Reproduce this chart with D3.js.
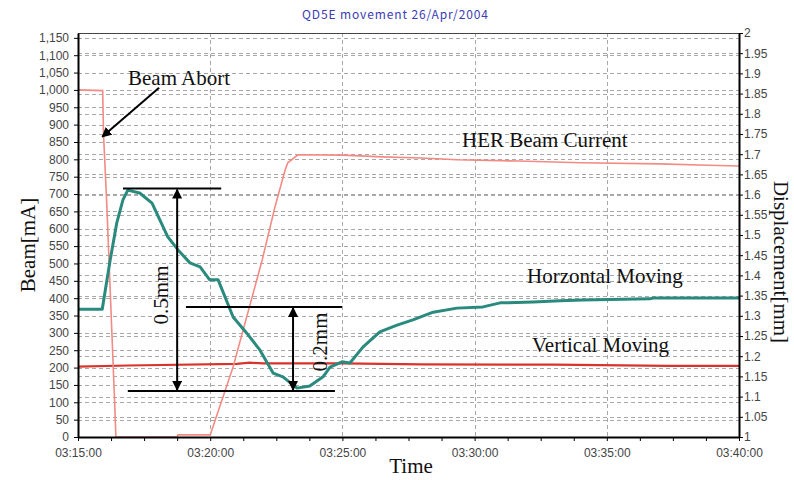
<!DOCTYPE html>
<html>
<head>
<meta charset="utf-8">
<script src="https://cdn.jsdelivr.net/npm/d3@7"></script>
<style>
    body { margin: 0; background: #fff; }
    .axis text { font-family: "Liberation Sans", Arial, sans-serif; font-size: 12px; fill: #444; }
    .axis path, .axis line { stroke: #000; }
    .grid line { stroke: #a8a8a8; stroke-dasharray: 4,3; }
    .note { font-family: "Liberation Serif", "Times New Roman", serif; font-size: 21px; fill: #111; }
</style>
</head>
<body>
<div id="chart-area"></div>
<script>
// HER beam current (left axis, mA)
var herTimes = ['03:15:00', '03:15:56', '03:15:58', '03:16:05', '03:16:23', '03:16:26', '03:18:45', '03:18:47',
    '03:20:00', '03:20:52', '03:21:58', '03:22:27', '03:22:50', '03:22:56', '03:23:19', '03:25:00', '03:26:30',
    '03:28:00', '03:29:20', '03:31:40', '03:34:00', '03:37:00', '03:38:50', '03:40:00'];
var herValues = [1000, 998, 870, 680, 105, 0, 0, 6,
    6, 202, 510, 663, 769, 790, 813, 812, 807,
    804, 799, 795, 790, 787, 783, 781];

// horizontal displacement (right axis, mm)
var horTimes = ['03:15:00', '03:15:55', '03:16:13', '03:16:28', '03:16:42', '03:16:53', '03:17:20', '03:17:48',
    '03:18:06', '03:18:24', '03:18:47', '03:19:14', '03:19:37', '03:19:59', '03:20:18', '03:20:52', '03:21:23',
    '03:21:53', '03:22:23', '03:22:45', '03:23:17', '03:23:46', '03:24:16', '03:24:32', '03:24:59', '03:25:17',
    '03:25:47', '03:26:25', '03:27:04', '03:27:40', '03:28:26', '03:29:20', '03:30:19', '03:30:58', '03:32:13',
    '03:33:14', '03:34:06', '03:36:38', '03:36:45', '03:40:00'];
var horValues = [1.316, 1.316, 1.438, 1.530, 1.587, 1.611, 1.604, 1.579,
    1.537, 1.495, 1.463, 1.431, 1.421, 1.389, 1.389, 1.297, 1.257,
    1.215, 1.158, 1.149, 1.121, 1.126, 1.149, 1.173, 1.186, 1.183,
    1.223, 1.260, 1.277, 1.290, 1.309, 1.319, 1.322, 1.332, 1.334,
    1.337, 1.339, 1.342, 1.344, 1.344];

// vertical displacement (right axis, mm)
var verTimes = ['03:15:00', '03:16:53', '03:21:00', '03:21:30', '03:22:00', '03:25:00', '03:28:00', '03:33:00',
    '03:37:20', '03:40:00'];
var verValues = [1.174, 1.177, 1.181, 1.184, 1.182, 1.182, 1.180, 1.179, 1.176, 1.176];

var beamTicks = d3.range(0, 1151, 50);
var dispTicks = d3.range(0, 21).map(function (i) { return 1 + i * 0.05; });

var margin = { top: 33, right: 55, bottom: 43, left: 78 };
var width = 794 - margin.left - margin.right;
var height = 480 - margin.top - margin.bottom;

var parse = d3.timeParse('%H:%M:%S');
var t0 = parse('03:15:00');
var t1 = parse('03:40:00');

var svg = d3.select('#chart-area')
    .append('svg')
    .attr('width', 794)
    .attr('height', 480);

var g = svg.append('g')
    .attr('transform', 'translate(' + margin.left + ',' + margin.top + ')');

var x = d3.scaleTime().domain([t0, t1]).range([0, width]);
var yL = d3.scaleLinear().domain([0, 1164]).range([height, 0]);
var yR = d3.scaleLinear().domain([1, 2]).range([height, 0]);

// gridlines, both axes
g.append('g').attr('class', 'grid')
    .selectAll('line').data(beamTicks.filter(function (d) { return d > 0; }))
    .enter().append('line')
    .attr('x1', 0).attr('x2', width)
    .attr('y1', function (d) { return Math.round(yL(d)) + 0.5; })
    .attr('y2', function (d) { return Math.round(yL(d)) + 0.5; });

g.append('g').attr('class', 'grid')
    .selectAll('line').data(dispTicks.filter(function (d) { return d > 1.001 && d < 1.999; }))
    .enter().append('line')
    .attr('x1', 0).attr('x2', width)
    .attr('y1', function (d) { return Math.round(yR(d)) + 0.5; })
    .attr('y2', function (d) { return Math.round(yR(d)) + 0.5; });

var majorTimes = [1, 2, 3, 4].map(function (i) { return new Date(t0.getTime() + i * 300000); });
g.append('g').attr('class', 'grid')
    .selectAll('line').data(majorTimes)
    .enter().append('line')
    .attr('y1', 0).attr('y2', height)
    .attr('x1', function (d) { return Math.round(x(d)) + 0.5; })
    .attr('x2', function (d) { return Math.round(x(d)) + 0.5; });

// top border
g.append('line')
    .attr('x1', 0).attr('x2', width)
    .attr('y1', 0.5).attr('y2', 0.5)
    .attr('stroke', '#444');

// series
function series(times, values) {
    return times.map(function (t, i) { return { t: parse(t), v: values[i] }; });
}

var lineL = d3.line()
    .x(function (d) { return x(d.t); })
    .y(function (d) { return yL(d.v); });
var lineR = d3.line()
    .x(function (d) { return x(d.t); })
    .y(function (d) { return yR(d.v); });

g.append('path')
    .datum(series(verTimes, verValues))
    .attr('d', lineR)
    .attr('fill', 'none')
    .attr('stroke', '#d8342c')
    .attr('stroke-width', 2.2);

g.append('path')
    .datum(series(herTimes, herValues))
    .attr('d', lineL)
    .attr('fill', 'none')
    .attr('stroke', '#f38a84')
    .attr('stroke-width', 1.6);

g.append('path')
    .datum(series(horTimes, horValues))
    .attr('d', lineR)
    .attr('fill', 'none')
    .attr('stroke', '#2a8a7e')
    .attr('stroke-width', 3)
    .attr('stroke-linejoin', 'round');

// axes
var xTicks = d3.range(0, 21).map(function (i) { return new Date(t0.getTime() + i * 75000); });
var xAxisCall = d3.axisBottom(x)
    .tickValues(xTicks)
    .tickSize(4)
    .tickPadding(7)
    .tickSizeOuter(0)
    .tickFormat(function (d) {
        return (d - t0) % 300000 === 0 ? d3.timeFormat('%H:%M:%S')(d) : '';
    });
g.append('g')
    .attr('class', 'axis x-axis')
    .attr('transform', 'translate(0,' + height + ')')
    .call(xAxisCall)
    .select('.domain').attr('stroke-width', 2);

var yAxisCall = d3.axisLeft(yL)
    .tickValues(beamTicks)
    .tickSize(4)
    .tickPadding(5)
    .tickSizeOuter(0)
    .tickFormat(d3.format(','));
g.append('g')
    .attr('class', 'axis y-axis')
    .call(yAxisCall)
    .select('.domain').attr('stroke-width', 2);

var y2AxisCall = d3.axisRight(yR)
    .tickValues(dispTicks)
    .tickSize(4)
    .tickPadding(1)
    .tickSizeOuter(0)
    .tickFormat(d3.format('.3~f'));
g.append('g')
    .attr('class', 'axis y2-axis')
    .attr('transform', 'translate(' + width + ',0)')
    .call(y2AxisCall)
    .select('.domain').attr('stroke-width', 2);

// title and axis titles
svg.append('text')
    .attr('x', 395).attr('y', 19)
    .attr('text-anchor', 'middle')
    .attr('font-family', '"Noto Sans CJK JP", "DejaVu Sans", sans-serif')
    .attr('font-size', 12)
    .attr('fill', '#3c3cb4')
    .attr('textLength', 186)
    .text('QD5E movement 26/Apr/2004');

svg.append('text').attr('class', 'note')
    .attr('transform', 'translate(35,245) rotate(-90)')
    .attr('text-anchor', 'middle')
    .text('Beam[mA]');

svg.append('text').attr('class', 'note')
    .attr('transform', 'translate(774,262) rotate(90)')
    .attr('text-anchor', 'middle')
    .text('Displacement[mm]');

svg.append('text').attr('class', 'note')
    .attr('x', 411).attr('y', 473)
    .attr('text-anchor', 'middle')
    .attr('font-size', 20)
    .text('Time');

// annotations
var defs = svg.append('defs');
defs.append('marker')
    .attr('id', 'head')
    .attr('viewBox', '0 0 10 10')
    .attr('refX', 9).attr('refY', 5)
    .attr('markerWidth', 10).attr('markerHeight', 10)
    .attr('markerUnits', 'userSpaceOnUse')
    .attr('orient', 'auto-start-reverse')
    .append('path')
    .attr('d', 'M0,0 L10,5 L0,10 z')
    .attr('fill', '#000');

var ann = g.append('g').attr('stroke', '#000').attr('stroke-width', 2);

function tm(s) { return x(parse(s)); }

// Beam Abort arrow
ann.append('line')
    .attr('x1', tm('03:18:04')).attr('y1', yL(1006))
    .attr('x2', tm('03:15:55')).attr('y2', yL(865))
    .attr('marker-end', 'url(#head)');

// 0.5mm bracket
ann.append('line')
    .attr('x1', tm('03:16:42')).attr('x2', tm('03:20:25'))
    .attr('y1', yR(1.615)).attr('y2', yR(1.615));
ann.append('line')
    .attr('x1', tm('03:16:53')).attr('x2', tm('03:24:43'))
    .attr('y1', yR(1.114)).attr('y2', yR(1.114));
ann.append('line')
    .attr('x1', tm('03:18:45')).attr('x2', tm('03:18:45'))
    .attr('y1', yR(1.615) + 1).attr('y2', yR(1.114) - 1)
    .attr('marker-start', 'url(#head)')
    .attr('marker-end', 'url(#head)');

// 0.2mm bracket
ann.append('line')
    .attr('x1', tm('03:19:05')).attr('x2', tm('03:24:59'))
    .attr('y1', yR(1.322)).attr('y2', yR(1.322));
ann.append('line')
    .attr('x1', tm('03:23:08')).attr('x2', tm('03:23:08'))
    .attr('y1', yR(1.322) + 1).attr('y2', yR(1.114) - 1)
    .attr('marker-start', 'url(#head)')
    .attr('marker-end', 'url(#head)');

svg.append('text').attr('class', 'note')
    .attr('x', 128).attr('y', 85)
    .attr('font-size', 22)
    .text('Beam Abort');
svg.append('text').attr('class', 'note')
    .attr('x', 462).attr('y', 147)
    .attr('font-size', 22)
    .text('HER Beam Current');
svg.append('text').attr('class', 'note')
    .attr('x', 527).attr('y', 283)
    .text('Horzontal Moving');
svg.append('text').attr('class', 'note')
    .attr('x', 532).attr('y', 352)
    .text('Vertical Moving');
svg.append('text').attr('class', 'note')
    .attr('transform', 'translate(168,295) rotate(-90)')
    .attr('text-anchor', 'middle')
    .text('0.5mm');
svg.append('text').attr('class', 'note')
    .attr('transform', 'translate(327,342) rotate(-90)')
    .attr('text-anchor', 'middle')
    .text('0.2mm');
</script>
</body>
</html>
